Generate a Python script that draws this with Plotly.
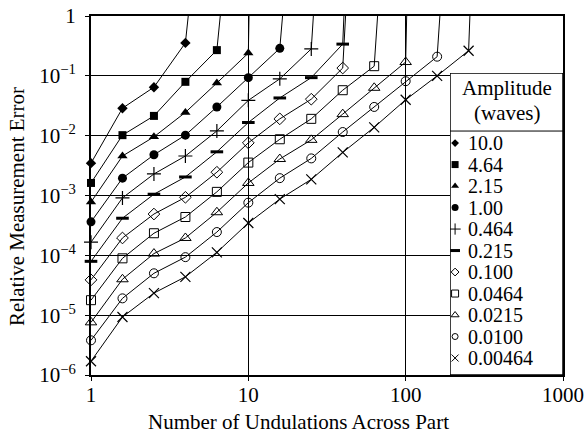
import plotly.graph_objects as go

# Undulation counts at which the error was evaluated (1/5-decade steps)
undulations = [1.0, 1.585, 2.512, 3.981, 6.310, 10.0, 15.85, 25.12, 39.81, 63.10, 100.0, 158.5, 251.2]

# Amplitude labels (waves)
amplitudes = ["10.0", "4.64", "2.15", "1.00", "0.464", "0.215",
              "0.100", "0.0464", "0.0215", "0.0100", "0.00464"]

# Relative measurement error for each amplitude
err_10_0 = [3.47e-3, 2.88e-2, 6.46e-2, 0.355]
err_4_64 = [1.62e-3, 1.02e-2, 2.14e-2, 7.94e-2, 0.269]
err_2_15 = [7.76e-4, 4.57e-3, 9.55e-3, 2.45e-2, 7.59e-2, 0.240]
err_1_00 = [3.63e-4, 1.95e-3, 4.79e-3, 1.02e-2, 3.02e-2, 9.33e-2, 0.288]
err_0_464 = [1.66e-4, 9.12e-4, 2.29e-3, 4.57e-3, 1.20e-2, 3.89e-2, 8.91e-2, 0.282]
err_0_215 = [7.94e-5, 4.17e-4, 1.05e-3, 2.04e-3, 5.37e-3, 1.66e-2, 4.27e-2, 9.33e-2, 0.339]
err_0_100 = [3.89e-5, 1.95e-4, 4.90e-4, 9.33e-4, 2.45e-3, 7.59e-3, 1.91e-2, 4.07e-2, 0.135]
err_0_0464 = [1.78e-5, 8.91e-5, 2.34e-4, 4.37e-4, 1.15e-3, 3.55e-3, 8.71e-3, 1.91e-2, 5.75e-2, 0.145]
err_0_0215 = [7.59e-6, 3.98e-5, 1.07e-4, 1.95e-4, 5.25e-4, 1.62e-3, 4.07e-3, 8.51e-3, 2.29e-2, 6.31e-2, 0.170]
err_0_0100 = [3.80e-6, 1.91e-5, 5.01e-5, 9.33e-5, 2.45e-4, 7.59e-4, 1.95e-3, 4.17e-3, 1.15e-2, 3.02e-2, 8.13e-2, 0.209]
err_0_00464 = [1.70e-6, 9.33e-6, 2.34e-5, 4.37e-5, 1.12e-4, 3.47e-4, 8.71e-4, 1.86e-3, 5.25e-3, 1.38e-2, 3.98e-2, 0.100, 0.263]

# Undulation count at which each curve reaches an error of 1 (curve breaks down)
breakdown_x = [4.15, 6.63, 10.1, 16.5, 25.9, 40.5, 41.5, 66.3, 101.5, 165.0, 256.0]

errors = [err_10_0, err_4_64, err_2_15, err_1_00, err_0_464, err_0_215,
          err_0_100, err_0_0464, err_0_0215, err_0_0100, err_0_00464]

# Axis tick values and labels
x_tickvals = [1, 10, 100, 1000]
x_ticktext = ["1", "10", "100", "1000"]
y_tickvals = [1e-6, 1e-5, 1e-4, 1e-3, 1e-2, 1e-1, 1]
y_ticktext = ["10<sup>\u22126</sup>", "10<sup>\u22125</sup>", "10<sup>\u22124</sup>",
              "10<sup>\u22123</sup>", "10<sup>\u22122</sup>", "10<sup>\u22121</sup>", "1"]

FONT = "Liberation Serif"
FS = 21          # axis text
FS_LEG = 20      # legend text
W, H = 587, 435
ML, MR, MT, MB = 91, 24, 16, 60
PW, PH = W - ML - MR, H - MT - MB


def px_to_paper(px, py):
    """Convert a pixel position on the page into paper coordinates."""
    return (px - ML) / PW, (H - MB - py) / PH


# marker symbol, size, outline width for each amplitude
styles = [
    ("diamond", 8, 0),
    ("square", 8, 0),
    ("triangle-up", 9, 0),
    ("circle", 9, 0),
    ("cross-thin-open", 10, 1.2),
    ("line-ew-open", 9, 3),
    ("diamond-open", 9, 1),
    ("square-open", 9, 1),
    ("triangle-up-open", 10, 1),
    ("circle-open", 9, 1),
    ("x-thin-open", 10, 1.2),
]

fig = go.Figure()

for amp, err, xb, (sym, size, lw) in zip(amplitudes, errors, breakdown_x, styles):
    xs = undulations[:len(err)]
    # curve, continuing up to the breakdown point
    fig.add_trace(go.Scatter(
        x=xs + [xb], y=err + [1.0], mode="lines",
        line=dict(color="black", width=1), showlegend=False, hoverinfo="skip",
    ))
    fig.add_trace(go.Scatter(
        x=xs, y=err, mode="markers", name=amp, showlegend=False,
        marker=dict(symbol=sym, size=size, color="black",
                    line=dict(color="black", width=lw)),
        cliponaxis=False,
    ))

# Legend drawn on an overlay axis: one row per amplitude
legend_sizes = [6, 7, 7, 7, 8, 7, 6, 7, 7, 6, 7]
for i, (amp, (sym, size, lw), ls) in enumerate(zip(amplitudes, styles, legend_sizes)):
    if sym == "line-ew-open":
        mline = dict(color="black", width=3)
    else:
        mline = dict(color="black", width=min(lw, 1))
    fig.add_trace(go.Scatter(
        x=[0.045], y=[i], mode="markers", xaxis="x2", yaxis="y2",
        marker=dict(symbol=sym, size=ls, color="black", line=mline),
        showlegend=False, hoverinfo="skip",
    ))
    fig.add_annotation(x=0.145, y=i, xref="x2", yref="y2", text=amp,
                       showarrow=False, xanchor="left", yanchor="middle",
                       font=dict(family=FONT, size=FS_LEG, color="black"))

fig.add_annotation(x=0.5, y=-2.55, xref="x2", yref="y2", text="Amplitude",
                   showarrow=False, xanchor="center", yanchor="middle",
                   font=dict(family=FONT, size=FS, color="black"))
fig.add_annotation(x=0.5, y=-1.38, xref="x2", yref="y2", text="(waves)",
                   showarrow=False, xanchor="center", yanchor="middle",
                   font=dict(family=FONT, size=FS, color="black"))

# legend frame and divider under the heading
fig.add_shape(type="rect", xref="x2", yref="y2", x0=0, x1=1, y0=-3.26, y1=10.79,
              fillcolor="white", line=dict(color="black", width=1.5), layer="between")
fig.add_shape(type="line", xref="x2", yref="y2", x0=0, x1=1, y0=-0.56, y1=-0.56,
              line=dict(color="black", width=1), layer="between")

# axis titles
tx, ty = px_to_paper(298, 422)
fig.add_annotation(x=tx, y=ty, xref="paper", yref="paper",
                   text="Number of Undulations Across Part", showarrow=False,
                   xanchor="center", yanchor="middle",
                   font=dict(family=FONT, size=FS, color="black"))
tx, ty = px_to_paper(17, 207)
fig.add_annotation(x=tx, y=ty, xref="paper", yref="paper",
                   text="Relative Measurement Error", showarrow=False, textangle=-90,
                   xanchor="center", yanchor="middle",
                   font=dict(family=FONT, size=FS, color="black"))

lx0, ly0 = px_to_paper(450, 375)
lx1, ly1 = px_to_paper(563, 73)

fig.update_layout(
    width=W, height=H,
    margin=dict(l=ML, r=MR, t=MT, b=MB, autoexpand=False),
    paper_bgcolor="white", plot_bgcolor="white",
    font=dict(family=FONT, size=FS, color="black"),
    showlegend=False,
    xaxis=dict(
        type="log", range=[0, 3], automargin=False,
        tickvals=x_tickvals, ticktext=x_ticktext,
        showgrid=True, gridcolor="black", gridwidth=1,
        showline=True, linecolor="black", linewidth=2, mirror=True,
        ticks="outside", ticklen=4, tickcolor="black",
        ticklabelstandoff=-4,
        tickfont=dict(family=FONT, size=FS, color="black"),
        zeroline=False,
    ),
    yaxis=dict(
        type="log", range=[-6, 0], automargin=False,
        tickvals=y_tickvals, ticktext=y_ticktext,
        showgrid=True, gridcolor="black", gridwidth=1,
        showline=True, linecolor="black", linewidth=2, mirror=True,
        ticks="outside", ticklen=4, tickcolor="black",
        ticklabelstandoff=5,
        tickfont=dict(family=FONT, size=FS, color="black"),
        zeroline=False,
    ),
    xaxis2=dict(domain=[lx0, lx1], range=[0, 1], visible=False, anchor="y2",
                fixedrange=True),
    yaxis2=dict(domain=[ly0, ly1], range=[10.79, -3.26], visible=False, anchor="x2",
                fixedrange=True),
)

fig.write_html("out.html")
